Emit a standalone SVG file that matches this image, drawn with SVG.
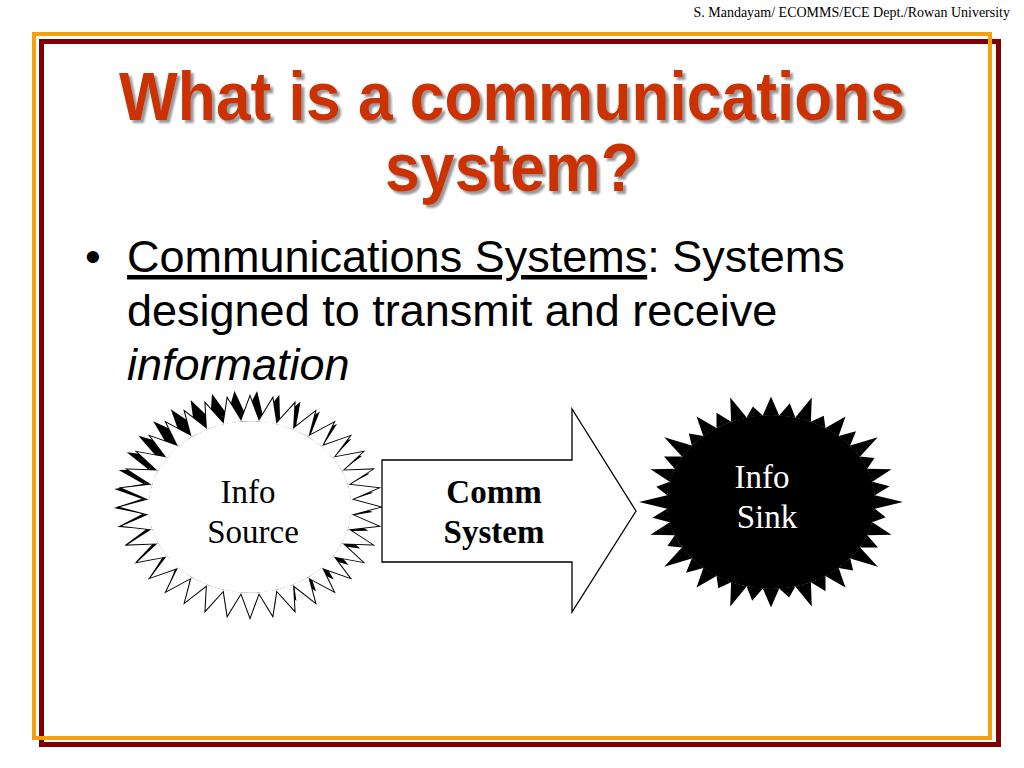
<svg xmlns="http://www.w3.org/2000/svg" xmlns:xlink="http://www.w3.org/1999/xlink" width="1024" height="768" viewBox="0 0 1024 768">
<style>
.hdr{font-family:"Liberation Serif","Times New Roman",serif;font-size:14px;fill:#000}
.title{font-family:"Liberation Sans",Arial,sans-serif;font-weight:bold;font-size:68px;text-anchor:middle;fill:#cc3300}
.body{font-family:"Liberation Sans",Arial,sans-serif;font-size:45px;fill:#000}
.lbl{font-family:"Liberation Serif","Times New Roman",serif;font-size:33px;text-anchor:middle}
</style>
<defs>
<filter id="shadow" x="-5%" y="-10%" width="115%" height="130%">
<feDropShadow dx="3" dy="3" stdDeviation="1" flood-color="#8c8c8c" flood-opacity="0.9"/>
</filter>
<polygon id="st" points="100,0 77.7,7.0 77.7,-7.0"/>
<g id="st3"><use xlink:href="#st"/><use xlink:href="#st" transform="rotate(10)"/><use xlink:href="#st" transform="rotate(20)"/></g>
<g id="srcShape">
<circle r="78"/>
<use xlink:href="#st3"/><use xlink:href="#st3" transform="rotate(30)"/><use xlink:href="#st3" transform="rotate(60)"/><use xlink:href="#st3" transform="rotate(90)"/>
<use xlink:href="#st3" transform="rotate(120)"/><use xlink:href="#st3" transform="rotate(150)"/><use xlink:href="#st3" transform="rotate(180)"/><use xlink:href="#st3" transform="rotate(210)"/>
<use xlink:href="#st3" transform="rotate(240)"/><use xlink:href="#st3" transform="rotate(270)"/><use xlink:href="#st3" transform="rotate(300)"/><use xlink:href="#st3" transform="rotate(330)"/>
</g>
<polygon id="kA" points="100,0 78.7,6.2 78.7,-6.2"/>
<polygon id="kB" points="88,0 78.7,6.2 78.7,-6.2"/>
<polygon id="kC" points="96,0 78.7,6.2 78.7,-6.2"/>
<polygon id="kD" points="91,0 78.7,6.2 78.7,-6.2"/>
<g id="k4"><use xlink:href="#kA"/><use xlink:href="#kB" transform="rotate(9)"/><use xlink:href="#kC" transform="rotate(18)"/><use xlink:href="#kD" transform="rotate(27)"/></g>
<g id="sinkShape">
<circle r="79"/>
<use xlink:href="#k4"/><use xlink:href="#k4" transform="rotate(36)"/><use xlink:href="#k4" transform="rotate(72)"/><use xlink:href="#k4" transform="rotate(108)"/>
<use xlink:href="#k4" transform="rotate(144)"/><use xlink:href="#k4" transform="rotate(180)"/><use xlink:href="#k4" transform="rotate(216)"/><use xlink:href="#k4" transform="rotate(252)"/>
<use xlink:href="#k4" transform="rotate(288)"/><use xlink:href="#k4" transform="rotate(324)"/>
</g>
</defs>
<rect width="1024" height="768" fill="#fff"/>
<g id="frame">
<rect x="41.5" y="41.5" width="957" height="703" fill="none" stroke="#7f0000" stroke-width="5"/>
<rect x="34" y="34" width="956" height="704" fill="none" stroke="#f5a10f" stroke-width="4"/>
</g>
<text class="hdr" x="1010" y="17" text-anchor="end">S. Mandayam/ ECOMMS/ECE Dept./Rowan University</text>
<g id="title" filter="url(#shadow)">
<text class="title" x="512" y="120" textLength="786" lengthAdjust="spacingAndGlyphs">What is a communications</text>
<text class="title" x="512" y="191" textLength="254" lengthAdjust="spacingAndGlyphs">system?</text>
</g>
<g id="bullet">
<text class="body" x="85" y="272">•</text>
<text class="body" x="127" y="272"><tspan text-decoration="underline">Communications Systems</tspan>: Systems</text>
<text class="body" x="127" y="326">designed to transmit and receive</text>
<text class="body" x="127" y="380" font-style="italic">information</text>
</g>
<g id="info-source">
<g transform="translate(250,507) scale(1.3,1.1)">
<use xlink:href="#srcShape" fill="#000" transform="translate(-5,-6) rotate(-4)"/>
<use xlink:href="#srcShape" fill="#000" stroke="#000" stroke-width="1.6"/>
<use xlink:href="#srcShape" fill="#fff"/>
</g>
<text class="lbl" x="248" y="503" fill="#000">Info</text>
<text class="lbl" x="253" y="543" fill="#000">Source</text>
</g>
<g id="connectors">
<g id="comm-system">
<polygon points="382,460 572,460 572,409 636,511 572,612 572,562 382,562" fill="#fff" stroke="#000" stroke-width="1.3"/>
<text class="lbl" x="494" y="503" font-weight="bold" font-size="32">Comm</text>
<text class="lbl" x="494" y="543" font-weight="bold" font-size="32">System</text>
</g>
</g>
<g id="info-sink">
<g transform="translate(771,502) scale(1.32,1.1)">
<use xlink:href="#sinkShape" fill="#000"/>
</g>
<text class="lbl" x="762" y="488" fill="#fff">Info</text>
<text class="lbl" x="767" y="528" fill="#fff">Sink</text>
</g>
</svg>
